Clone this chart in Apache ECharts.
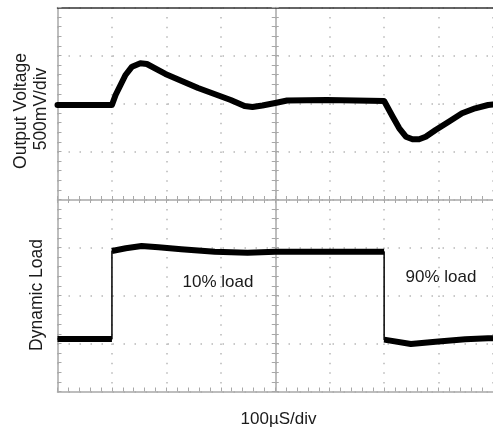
<!DOCTYPE html>
<html>
<head>
<meta charset="utf-8">
<script src="https://cdn.jsdelivr.net/npm/echarts@6/dist/echarts.min.js"></script>
<style>
html,body{margin:0;padding:0;background:#fff;}
#chart{width:493px;height:432px;}
</style>
</head>
<body>
<div id="chart"></div>
<script>
// Time in divisions (100 µs/div), centre of screen = 0
var voltTime  = [-4, -3.0, -2.933, -2.842, -2.751, -2.631, -2.478, -2.358, -2.018, -1.418, -0.818, -0.564, -0.418, -0.236, 0, 0.218, 0.945, 2.0, 2.158, 2.278, 2.4, 2.522, 2.642, 2.764, 2.945, 3.187, 3.431, 3.673, 3.909, 4.0];
var voltValue = [1.969, 1.969, 2.177, 2.385, 2.594, 2.767, 2.838, 2.823, 2.615, 2.323, 2.073, 1.948, 1.927, 1.958, 2.010, 2.063, 2.073, 2.052, 1.725, 1.483, 1.308, 1.254, 1.254, 1.308, 1.448, 1.621, 1.796, 1.900, 1.969, 1.98];

var loadTime  = [-4, -3.0, -3.0, -2.745, -2.455, -2.145, -1.727, -1.109, -0.509, 0, 2.0, 2.0, 2.036, 2.491, 2.945, 3.491, 3.909, 4.0];
var loadValue = [-2.906, -2.906, -1.073, -1.017, -0.969, -0.996, -1.038, -1.088, -1.108, -1.088, -1.088, -2.92, -2.942, -3.01, -2.963, -2.913, -2.892, -2.89];

var axisMin = -4, axisMax = 4, axisStep = 1;

var labels = {
  yTop1: 'Output Voltage',
  yTop2: '500mV/div',
  yBottom: 'Dynamic Load',
  xName: '100\u00b5S/div',
  note1: '10% load',
  note2: '90% load'
};

function pairs(t, v) { return t.map(function (x, i) { return [x, v[i]]; }); }
function thickPairs(t, v) {
  var out = [];
  for (var i = 0; i < t.length; i++) {
    if (i > 0 && t[i] === t[i - 1]) out.push([t[i], '-']);
    out.push([t[i], v[i]]);
  }
  return out;
}

var gridCol = '#a8a8a8';
var dotCol = '#b8b8b8';
var font = 'Arial, "Liberation Sans", Helvetica, sans-serif';
var txtCol = '#1a1a1a';

function baseAxis(extra) {
  var a = {
    type: 'value', min: axisMin, max: axisMax, interval: axisStep,
    axisLabel: { show: false },
    splitLine: { show: false },
    axisTick: { show: false },
    minorTick: { show: false },
    axisLine: { show: true, onZero: false, lineStyle: { color: gridCol, width: 1.5 } }
  };
  for (var k in extra) a[k] = extra[k];
  return a;
}

var chart = echarts.init(document.getElementById('chart'), null, { renderer: 'canvas' });
chart.setOption({
  animation: false,
  backgroundColor: '#fff',
  grid: { left: 57.5, top: 7.5, width: 440, height: 384 },
  xAxis: [
    baseAxis({
      position: 'bottom',
      axisTick: { show: true, inside: true, length: 4, lineStyle: { color: gridCol, width: 1 } },
      minorTick: { show: true, splitNumber: 5, length: 4, lineStyle: { color: gridCol, width: 1 } },
      splitLine: { show: true, lineStyle: { color: dotCol, width: 1.5, type: [1.5, 8.1] } }
    }),
    baseAxis({
      position: 'top',
      axisLine: { show: true, onZero: false, lineStyle: { color: '#333', width: 1.5 } }
    }),
    baseAxis({
      position: 'bottom',
      axisLine: { show: true, onZero: true, onZeroAxisIndex: 0, lineStyle: { color: gridCol, width: 1.5 } },
      axisTick: { show: true, inside: true, length: 3.5, lineStyle: { color: gridCol, width: 1 } },
      minorTick: { show: true, splitNumber: 5, length: 3.5, lineStyle: { color: gridCol, width: 1 } }
    }),
    baseAxis({
      position: 'bottom',
      axisLine: { show: false, onZero: true, onZeroAxisIndex: 0 },
      axisTick: { show: true, inside: false, length: 3.5, lineStyle: { color: gridCol, width: 1 } },
      minorTick: { show: true, splitNumber: 5, length: 3.5, lineStyle: { color: gridCol, width: 1 } }
    })
  ],
  yAxis: [
    baseAxis({
      position: 'left',
      axisTick: { show: true, inside: true, length: 4, lineStyle: { color: gridCol, width: 1 } },
      minorTick: { show: true, splitNumber: 5, length: 4, lineStyle: { color: gridCol, width: 1 } },
      splitLine: { show: true, lineStyle: { color: dotCol, width: 1.5, type: [1.5, 9.5] } }
    }),
    baseAxis({
      position: 'left',
      axisLine: { show: true, onZero: true, onZeroAxisIndex: 0, lineStyle: { color: gridCol, width: 1.5 } },
      axisTick: { show: true, inside: true, length: 3.5, lineStyle: { color: gridCol, width: 1 } },
      minorTick: { show: true, splitNumber: 5, length: 3.5, lineStyle: { color: gridCol, width: 1 } }
    }),
    baseAxis({
      position: 'left',
      axisLine: { show: false, onZero: true, onZeroAxisIndex: 0 },
      axisTick: { show: true, inside: false, length: 3.5, lineStyle: { color: gridCol, width: 1 } },
      minorTick: { show: true, splitNumber: 5, length: 3.5, lineStyle: { color: gridCol, width: 1 } }
    })
  ],
  series: [
    {
      name: 'Output Voltage', type: 'line', xAxisIndex: 0, yAxisIndex: 0,
      data: pairs(voltTime, voltValue), showSymbol: false, smooth: false,
      lineStyle: { color: '#000', width: 6, cap: 'round', join: 'round' }, z: 5
    },
    {
      name: 'Dynamic Load edges', type: 'line', xAxisIndex: 0, yAxisIndex: 0,
      data: pairs(loadTime, loadValue), showSymbol: false,
      lineStyle: { color: '#000', width: 1.5 }, z: 5
    },
    {
      name: 'Dynamic Load', type: 'line', xAxisIndex: 0, yAxisIndex: 0,
      data: thickPairs(loadTime, loadValue), showSymbol: false, connectNulls: false,
      lineStyle: { color: '#000', width: 6, cap: 'butt', join: 'round' }, z: 5
    }
  ],
  graphic: [
    { type: 'text', x: 21, y: 111, rotation: Math.PI / 2,
      style: { text: labels.yTop1, font: '17.5px ' + font, fill: txtCol, align: 'center', verticalAlign: 'middle' } },
    { type: 'text', x: 41.5, y: 109, rotation: Math.PI / 2,
      style: { text: labels.yTop2, font: '17.5px ' + font, fill: txtCol, align: 'center', verticalAlign: 'middle' } },
    { type: 'text', x: 37, y: 295, rotation: Math.PI / 2,
      style: { text: labels.yBottom, font: '17.5px ' + font, fill: txtCol, align: 'center', verticalAlign: 'middle' } },
    { type: 'text', x: 278.5, y: 419, 
      style: { text: labels.xName, font: '17px ' + font, fill: txtCol, align: 'center', verticalAlign: 'middle' } },
    { type: 'text', x: 218, y: 282,
      style: { text: labels.note1, font: '17px ' + font, fill: txtCol, align: 'center', verticalAlign: 'middle' } },
    { type: 'text', x: 441, y: 277,
      style: { text: labels.note2, font: '17px ' + font, fill: txtCol, align: 'center', verticalAlign: 'middle' } }
  ]
});
</script>
</body>
</html>
